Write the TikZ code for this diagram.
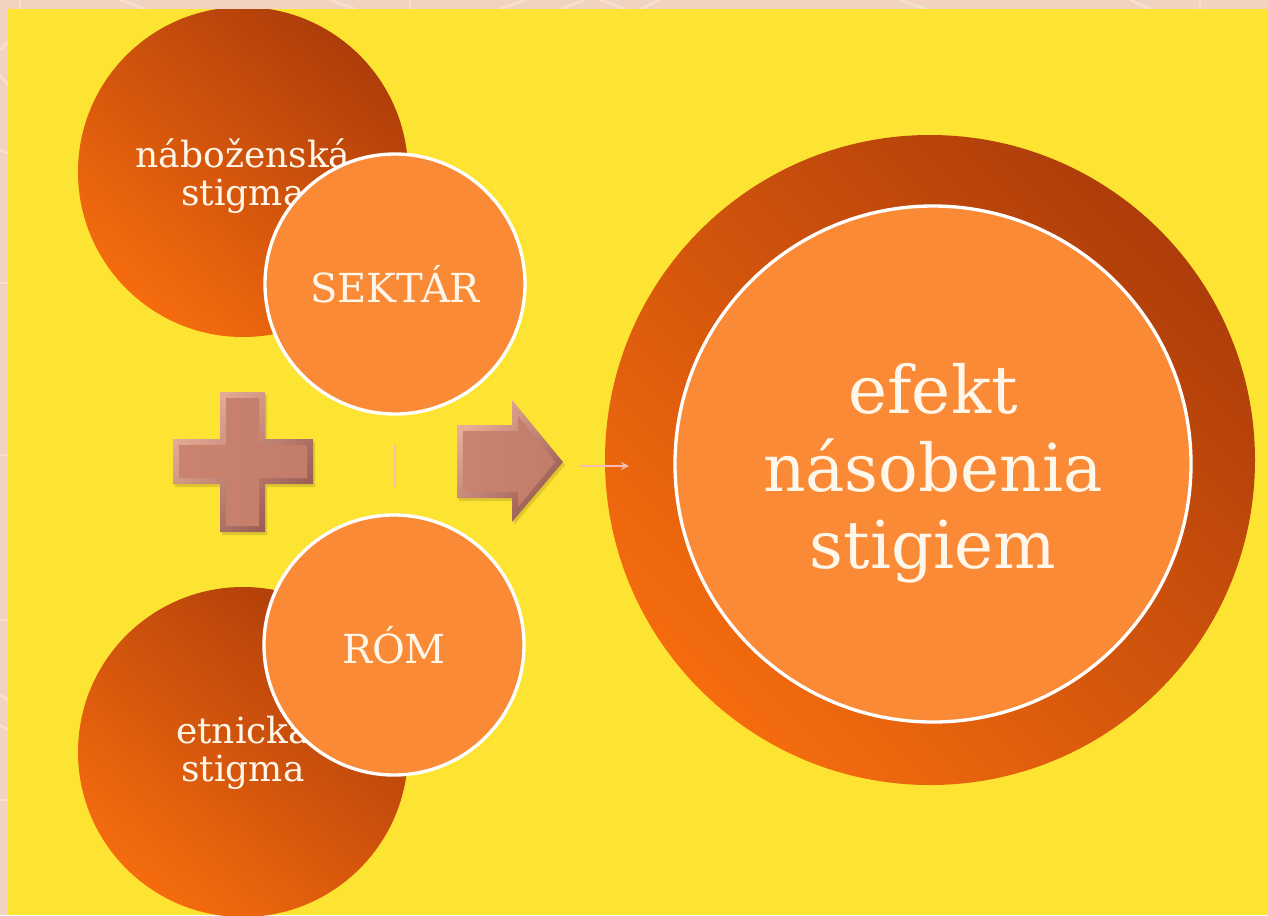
\documentclass[tikz,border=0pt]{standalone}
\usepackage{fontspec}
\setmainfont{DejaVu Serif}
\usetikzlibrary{arrows.meta}
\definecolor{bg}{HTML}{F1D3BF}
\definecolor{yel}{HTML}{FDE432}
\definecolor{darkor}{HTML}{AE3D0A}
\definecolor{brightor}{HTML}{F56C0E}
\definecolor{lightor}{HTML}{FB8A37}
\definecolor{bevlight}{HTML}{E8AE99}
\definecolor{bevdark}{HTML}{98594F}
\definecolor{facel}{HTML}{C9836E}
\definecolor{facem}{HTML}{DE9B85}
\definecolor{facer}{HTML}{C27D6B}
\definecolor{pinkln}{HTML}{F7BDB2}
\definecolor{txt}{HTML}{FFF7EA}
\tikzset{
  darkcirc/.style={circle, inner sep=0pt, minimum size=247.5pt, top color=darkor, bottom color=brightor, shading angle=-40, text=txt, align=center},
  lightcirc/.style={circle, inner sep=0pt, minimum size=195pt, fill=lightor, draw=white, line width=2.5pt, text=txt, align=center},
  bigouter/.style={circle, inner sep=0pt, minimum size=487.5pt, top color=darkor, bottom color=brightor, shading angle=-45},
  biginner/.style={circle, inner sep=0pt, minimum size=387pt, fill=lightor, draw=white, line width=2.5pt},
  bevelout/.style={top color=bevlight, bottom color=bevdark, shading angle=45},
  bevelin/.style={left color=facel, middle color=facem, right color=facer},
  shadowfill/.style={fill=black, opacity=0.12},
  pinkline/.style={draw=pinkln, line width=2pt},
  smalltxt/.style={font=\fontsize{27}{29}\selectfont},
  captxt/.style={font=\fontsize{30}{34}\selectfont},
  bigtxt/.style={font=\fontsize{49.5}{58}\selectfont, text=txt, align=center}
}
\begin{document}
\begin{tikzpicture}[x=0.75pt,y=-0.75pt]
\useasboundingbox (0,0) rectangle (1268,915);
\fill[bg] (0,0) rectangle (1268,915);
% faint pattern in the border
\begin{scope}[draw=white, opacity=0.3, line width=2pt]
\draw (20,0) -- (20,9); \draw (120,0) -- (145,9); \draw (330,0) -- (355,9);
\draw (410,0) -- (410,9); \draw (500,9) -- (525,0); \draw (560,9) -- (585,0);
\draw (600,0) -- (625,9); \draw (640,9) -- (660,0); \draw (900,0) -- (925,9);
\draw (1130,0) -- (1150,9); \draw (1200,0) -- (1200,9);
\draw (0,50) -- (8,42); \draw (0,75) -- (8,85); \draw (0,150) -- (8,153);
\draw (0,283) -- (8,283); \draw (0,455) -- (8,455); \draw (0,620) -- (8,620);
\draw (0,695) -- (8,700); \draw (0,725) -- (8,730); \draw (0,800) -- (8,800);
\end{scope}
\fill[yel] (8,9) rectangle (1268,915);
\begin{scope}
\clip (8,9) rectangle (1268,915);
\node[darkcirc] (nab) at (243,172) {};
\node[smalltxt, text=txt, align=center] (nabtxt) at ([yshift=-3pt]nab.center) {náboženská\\stigma};
\node[darkcirc] (etn) at (243,752) {};
\node[smalltxt, text=txt, align=center] (etntxt) at (etn.center) {etnická\\stigma};
\end{scope}
\node[lightcirc, captxt] (sektar) at (395,284) {SEKTÁR};
\node[lightcirc, captxt] (rom) at (394,645) {RÓM};
\node[bigouter] (efekt) at (930,460) {};
\node[biginner] (efektin) at (933,464) {};
\node[bigtxt] (efekttxt) at ([yshift=-7pt]efektin.center) {efekt\\násobenia\\stigiem};
% plus sign
\path[shadowfill] (222,395) -- (267,395) -- (267,442) -- (315,442) -- (315,487) -- (267,487) -- (267,535) -- (222,535) -- (222,487) -- (175,487) -- (175,442) -- (222,442) -- cycle;
\path[bevelout] (220,392) -- (265,392) -- (265,439) -- (313,439) -- (313,484) -- (265,484) -- (265,532) -- (220,532) -- (220,484) -- (173,484) -- (173,439) -- (220,439) -- cycle;
\path[bevelin] (226,398) -- (259,398) -- (259,445) -- (307,445) -- (307,478) -- (259,478) -- (259,526) -- (226,526) -- (226,478) -- (179,478) -- (179,445) -- (226,445) -- cycle;
% right arrow
\path[shadowfill] (459,428) -- (514,428) -- (514,403) -- (565,465) -- (514,525) -- (514,501) -- (459,501) -- cycle;
\path[bevelout] (457,425) -- (512,425) -- (512,400) -- (563,462) -- (512,522) -- (512,498) -- (457,498) -- cycle;
\path[bevelin] (463,431) -- (518,431) -- (518,416) -- (555,462) -- (518,507) -- (518,492) -- (463,492) -- cycle;
% small pink marks
\coordinate (v1) at (395,445);
\coordinate (v2) at (395,487);
\draw[pinkline, line width=1.5pt] (v1) -- (v2);
\coordinate (p1) at (579,466);
\coordinate (p2) at (629,466);
\draw[pinkline, -{Stealth[length=6pt,width=6pt]}] (p1) -- (p2);
\end{tikzpicture}
\end{document}
